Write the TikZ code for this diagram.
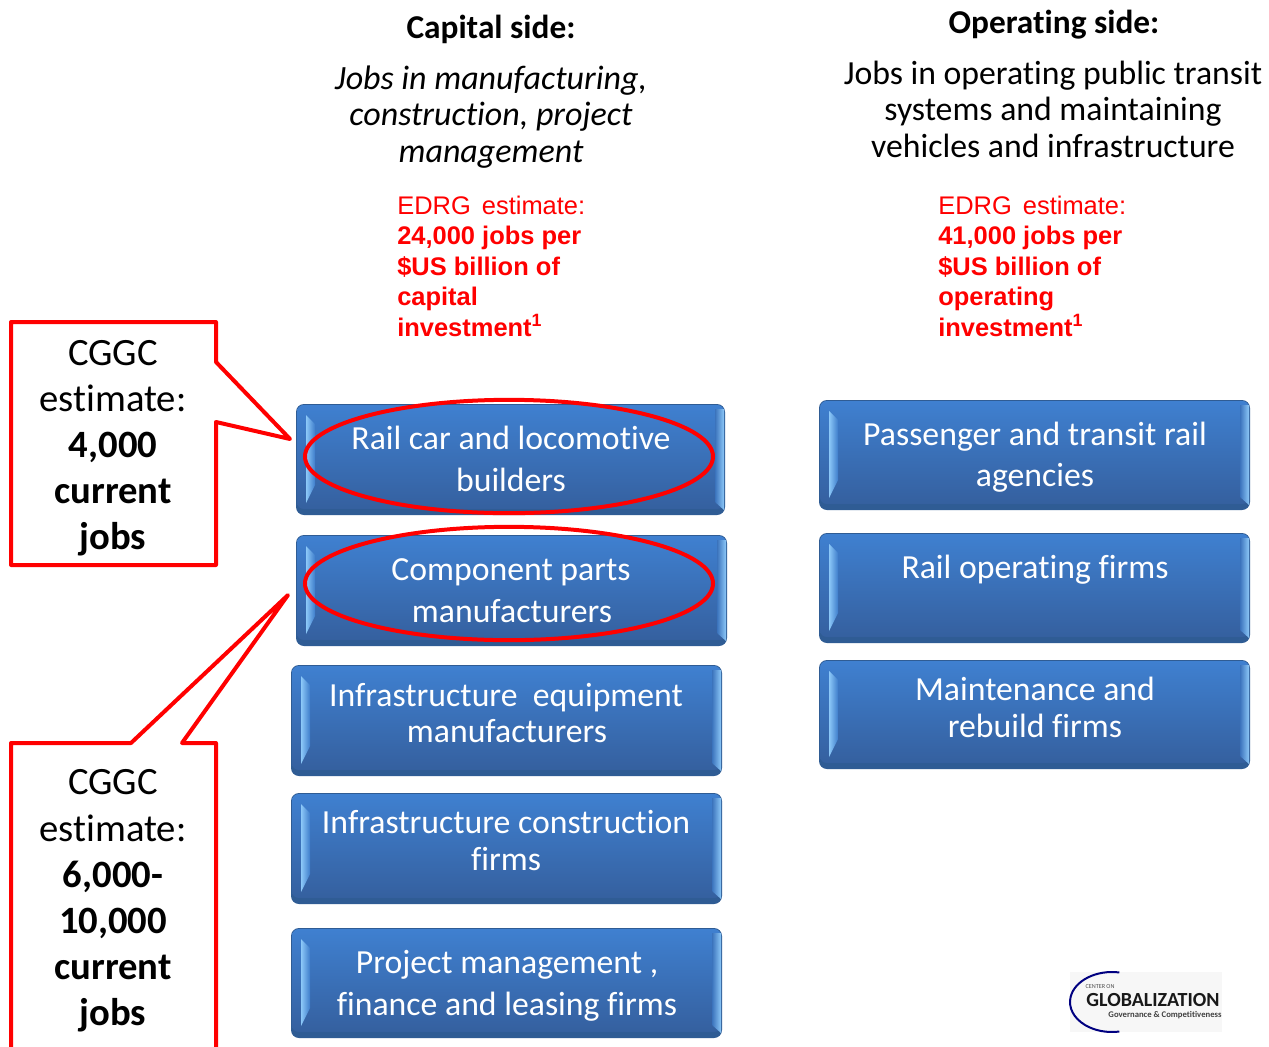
\documentclass[tikz,border=0pt]{standalone}
\usepackage{fontspec}
\setmainfont[Ligatures=CommonOff]{Carlito}
\newfontfamily\arialf{Liberation Sans}
\usetikzlibrary{shapes.geometric,calc}
\definecolor{boxtop}{HTML}{3F80D0}
\definecolor{boxbot}{HTML}{35609F}
\definecolor{boxedge}{HTML}{2F5C94}
\definecolor{bevel}{HTML}{8CC8F8}
\definecolor{ringred}{HTML}{FF0000}
\tikzset{
  px/.style={x=0.75pt,y=-0.75pt},
  head/.style={align=center,text=black,inner sep=0pt},
  redtext/.style={font=\arialf\fontsize{19.1}{22.9}\selectfont,text=red,align=left,anchor=north west,inner sep=0pt},
  boxtext/.style={font=\fontsize{25.3}{25.3}\selectfont,text=white,align=center,inner sep=0pt,text height=17pt,text depth=5pt},
  calltext/.style={font=\fontsize{29}{34.6}\selectfont,align=center,text=black,inner sep=0pt},
  ring/.style={ellipse,draw=ringred,line width=3pt,inner sep=0pt,minimum width=306pt,minimum height=85pt},
  callout/.style={draw=ringred,fill=white,line width=3pt,line join=round},
}
\newcommand{\bluebox}[5]{%
  \fill[boxedge,rounded corners=6pt] (#2,#3) rectangle (#4,#5);
  \shade[top color=boxtop,bottom color=boxbot,rounded corners=5pt] (#2+1,#3+1) rectangle (#4-1,#5-6);
  \shade[left color=bevel,right color=boxtop!90!boxbot] (#2+10,#3+11) -- (#2+19,#3+20) -- (#2+19,#5-30) -- (#2+10,#5-12) -- cycle;
  \shade[left color=boxtop!60!boxbot,right color=bevel] (#4-10,#3+5) -- (#4-1,#3+5) -- (#4-1,#5-5) -- (#4-10,#5-13) -- cycle;
  \coordinate (#1) at ($(#2,#3)!0.5!(#4,#5)$);
}
\begin{document}
\begin{tikzpicture}[px]
\useasboundingbox (0,0) rectangle (1269,1046);
\clip (0,0) rectangle (1269,1046);
\fill[white] (0,0) rectangle (1269,1046);

% Column headings
\node[head,font=\bfseries\fontsize{25}{27}\selectfont] (caphead) at (491,29.5) {Capital side:};
\node[head,font=\itshape\fontsize{25.5}{27.4}\selectfont] (capsub) at (491,117) {Jobs in manufacturing,\\construction, project\\management};
\node[head,font=\bfseries\fontsize{25}{27}\selectfont] (ophead) at (1054,25) {Operating side:};
\node[head,font=\fontsize{25.3}{27.4}\selectfont] (opsub) at (1053,109) {Jobs in operating public transit\\systems and maintaining\\vehicles and infrastructure};

% Red estimates
\node[redtext] (capest) at (397,196) {EDRG\hspace{3pt} estimate:\\[-0.5pt]\textbf{24,000 jobs per}\\\textbf{\$US billion of}\\\textbf{capital}\\\textbf{investment\textsuperscript{1}}};
\node[redtext] (opest) at (938,196) {EDRG\hspace{3pt} estimate:\\[-0.5pt]\textbf{41,000 jobs per}\\\textbf{\$US billion of}\\\textbf{operating}\\\textbf{investment\textsuperscript{1}}};

% Capital side boxes
\bluebox{b1}{296}{404}{725}{515}
\bluebox{b2}{296}{535}{727}{646}
\bluebox{b3}{291}{665}{722}{776}
\bluebox{b4}{291}{793}{722}{904}
\bluebox{b5}{291}{928}{722}{1038}
% Operating side boxes
\bluebox{o1}{819}{400}{1250}{510}
\bluebox{o2}{819}{533}{1250}{643}
\bluebox{o3}{819}{660}{1250}{769}

% Box texts
\node[boxtext] (t1a) at (511,441) {Rail car and locomotive};
\node[boxtext] (t1b) at (511,483) {builders};
\node[boxtext] (t2a) at (511,572) {Component parts};
\node[boxtext] (t2b) at (512,614) {manufacturers};
\node[boxtext] (t3a) at (506,698) {Infrastructure\ \ equipment};
\node[boxtext] (t3b) at (507,734) {manufacturers};
\node[boxtext] (t4a) at (506,825) {Infrastructure construction};
\node[boxtext] (t4b) at (506,862) {firms};
\node[boxtext] (t5a) at (507,965) {Project management ,};
\node[boxtext] (t5b) at (507,1007) {finance and leasing firms};
\node[boxtext] (u1a) at (1035,437) {Passenger and transit rail};
\node[boxtext] (u1b) at (1035,478) {agencies};
\node[boxtext] (u2a) at (1035,570) {Rail operating firms};
\node[boxtext] (u3a) at (1035,692) {Maintenance and};
\node[boxtext] (u3b) at (1035,729) {rebuild firms};

% Rings
\node[ring] (r1) at (509,456.5) {};
\node[ring] (r2) at (509,583.5) {};

% Callouts
\draw[callout] (11,322) -- (216,322) -- (216,362) -- (290,439) -- (216,422) -- (216,565) -- (11,565) -- cycle;
\node[calltext] (c1) at (113,448) {CGGC\\estimate:\\\textbf{4,000}\\\textbf{current}\\\textbf{jobs}};
\draw[callout] (11,743) -- (131,743) -- (288,595) -- (182,743) -- (216,743) -- (216,1060) -- (11,1060) -- cycle;
\node[calltext] (c2) at (113,901) {CGGC\\estimate:\\\textbf{6,000-}\\\textbf{10,000}\\\textbf{current}\\\textbf{jobs}};

% Logo
\fill[black!3] (1070,972) rectangle (1222,1032);
\draw[blue!50!black,line width=1.5pt] (1112,1002) ++(-80:42 and 30) arc[start angle=-80,end angle=-280,x radius=42,y radius=30];
\node[inner sep=0pt,font=\fontsize{4.6}{5}\selectfont,text=black!70] (l1) at (1100,987) {CENTER ON};
\node[inner sep=0pt,font=\bfseries\fontsize{15}{15}\selectfont,text=black!90] (l2) at (1153,1000) {GLOBALIZATION};
\node[inner sep=0pt,font=\bfseries\fontsize{6.5}{8}\selectfont,text=black!75] (l3) at (1165,1015) {Governance \& Competitiveness};
\end{tikzpicture}
\end{document}
